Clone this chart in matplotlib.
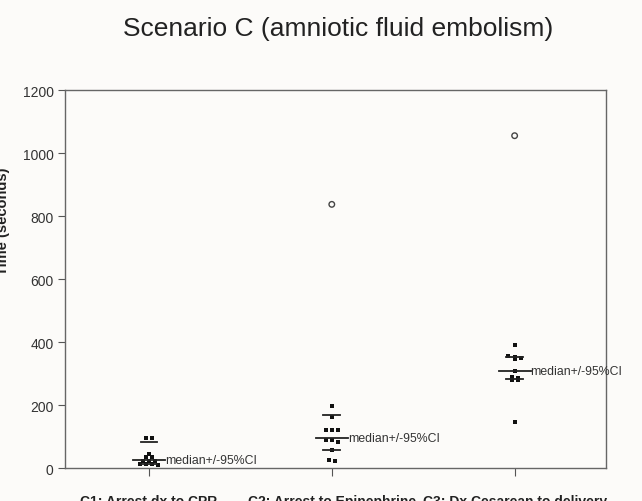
import numpy as np
import matplotlib.pyplot as plt

plt.rcParams['font.family'] = ['Liberation Sans', 'DejaVu Sans']

# data (seconds)
categories = ['C1: Arrest dx to CPR', 'C2: Arrest to Epinephrine',
              'C3: Dx Cesarean to delivery']
c1 = [95, 94, 46, 36, 35, 23, 22, 21, 14, 13, 12, 11]
c2 = [197, 162, 121, 121, 121, 89, 89, 83, 57, 25, 22]
c3 = [389, 355, 352, 346, 350, 309, 288, 287, 280, 280, 146]
outliers = [None, 837, 1055]
medians = [25, 95, 309]
ci_low = [12, 57, 283]
ci_high = [83, 169, 352]
yticks = [0, 200, 400, 600, 800, 1000, 1200]


def swarm(vals, tol=8, step=0.034):
    # spread points that share (almost) the same value sideways
    vals = sorted(vals, reverse=True)
    offs, out = [], []
    i = 0
    while i < len(vals):
        j = i
        while j + 1 < len(vals) and vals[i] - vals[j + 1] < tol:
            j += 1
        n = j - i + 1
        for k in range(n):
            offs.append((k - (n - 1) / 2) * step)
            out.append(vals[i + k])
        i = j + 1
    return np.array(offs), np.array(out)


fig = plt.figure(figsize=(6.42, 5.02), dpi=100, facecolor='#fcfbf9')
ax = fig.add_axes([0.101, 0.0657, 0.843, 0.753])
ax.set_facecolor('#fcfbf9')

groups = [c1, c2, c3]
for i, g in enumerate(groups):
    x = i + 1
    dx, vv = swarm(g)
    ax.scatter(x + dx, vv, s=6, marker='s', color='#111111', zorder=3, linewidths=0)
    if outliers[i] is not None:
        ax.scatter([x], [outliers[i]], s=16, facecolors='none',
                   edgecolors='#444444', linewidths=1.0, zorder=3)
    ax.plot([x - 0.087, x + 0.087], [medians[i]] * 2, color='#222222', lw=1.3, zorder=4)
    for c in (ci_low[i], ci_high[i]):
        ax.plot([x - 0.046, x + 0.046], [c, c], color='#222222', lw=1.3, zorder=4)
    ax.text(x + 0.087, medians[i], 'median+/-95%CI', ha='left', va='center',
            fontsize=8.8, color='#333333')

ax.set_xlim(0.54, 3.5)
ax.set_ylim(0, 1200)
ax.set_yticks(yticks)
ax.set_xticks([1, 2, 3])
ax.set_xticklabels(categories, fontweight='bold', fontsize=10, color='#222222')
ax.tick_params(axis='y', direction='out', length=5, labelsize=10, colors='#555555',
               labelcolor='#333333', pad=3)
ax.tick_params(axis='x', direction='out', length=6, colors='#555555', pad=13,
               labelcolor='#222222')
for s in ax.spines.values():
    s.set_color('#666666')
    s.set_linewidth(1.0)

fig.text(0.004, 0.56, 'Time (seconds)', rotation=90, ha='center', va='center',
         fontsize=10.5, fontweight='bold', color='#222222')
fig.text(0.527, 0.942, 'Scenario C (amniotic fluid embolism)', ha='center', va='center',
         fontsize=19, color='#222222')

fig.savefig('out.png', dpi=100, facecolor=fig.get_facecolor())
